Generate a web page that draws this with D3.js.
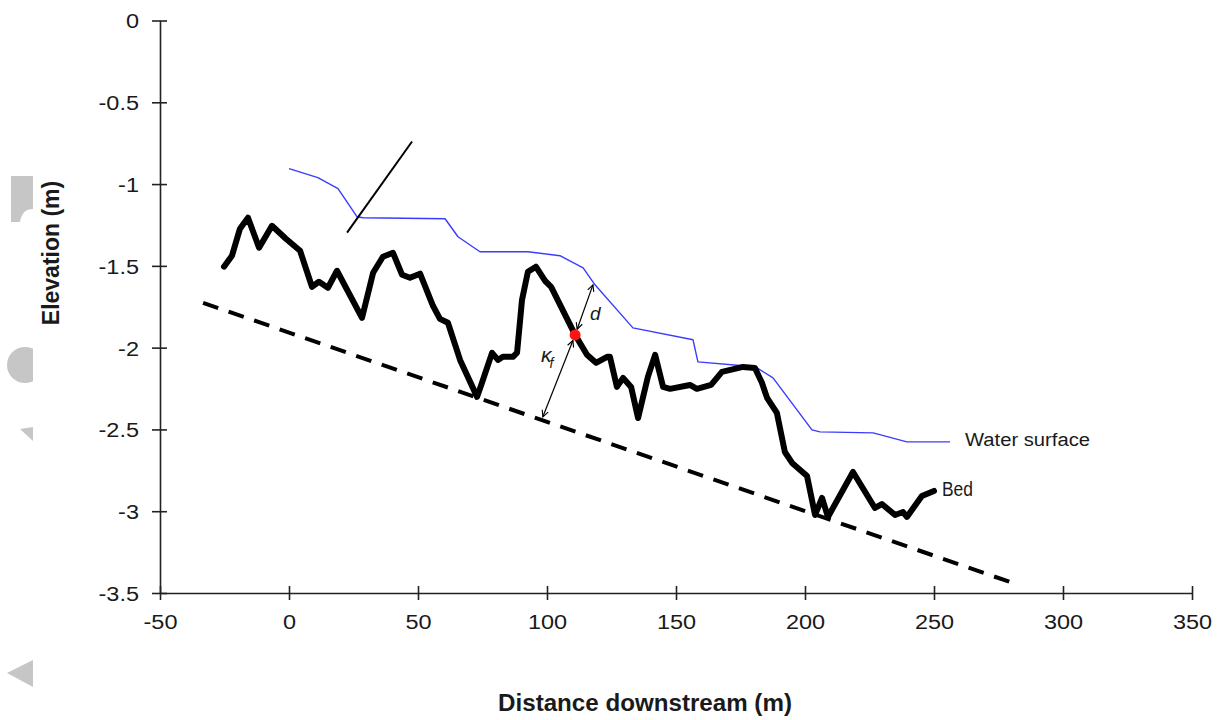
<!DOCTYPE html>
<html>
<head>
<meta charset="utf-8">
<script src="https://cdn.jsdelivr.net/npm/d3@7"></script>
<style>
  html, body { margin: 0; padding: 0; background: #fff; }
  svg { display: block; }
  text { font-family: "Liberation Sans", Arial, sans-serif; fill: #1a1a1a; }
</style>
</head>
<body>
<svg id="chart" width="1228" height="720"></svg>
<script>
// Longitudinal profile: bed, water surface and datum line
const xTicks = [-50, 0, 50, 100, 150, 200, 250, 300, 350];
const yTicks = [0, -0.5, -1, -1.5, -2, -2.5, -3, -3.5];

const bedDistance = [-25.2, -22.1, -19.0, -15.9, -11.6, -6.6, -1.2, 4.3, 8.9, 11.6, 15.1, 18.6,
  28.3, 32.6, 36.4, 40.3, 43.8, 46.9, 50.8, 55.8, 58.5, 61.6, 66.3, 72.9, 74.8, 78.7, 81.0,
  82.9, 86.8, 88.4, 90.3, 92.6, 95.7, 99.2, 101.6, 110.9, 115.5, 119.0, 123.3, 124.4, 127.1,
  129.5, 132.6, 135.3, 139.1, 141.9, 145.0, 147.7, 155.4, 158.1, 163.6, 167.8, 176.0, 180.6,
  183.3, 185.3, 189.1, 192.2, 195.0, 200.8, 203.9, 206.6, 208.9, 218.6, 227.1, 229.8, 234.9,
  238.0, 239.5, 245.3, 250.0];
const bedElevation = [-1.505, -1.438, -1.273, -1.206, -1.389, -1.255, -1.334, -1.408, -1.628,
  -1.597, -1.634, -1.530, -1.818, -1.542, -1.444, -1.420, -1.554, -1.573, -1.548, -1.744,
  -1.824, -1.848, -2.075, -2.301, -2.215, -2.032, -2.075, -2.056, -2.056, -2.030, -1.710,
  -1.536, -1.505, -1.591, -1.628, -1.922, -2.044, -2.093, -2.056, -2.056, -2.240, -2.185,
  -2.240, -2.430, -2.179, -2.044, -2.240, -2.252, -2.228, -2.252, -2.228, -2.148, -2.118,
  -2.124, -2.215, -2.307, -2.399, -2.638, -2.705, -2.785, -3.023, -2.919, -3.035, -2.760,
  -2.980, -2.956, -3.023, -3.005, -3.035, -2.907, -2.876];

const waterDistance = [0, 11.2, 19.0, 26.4, 28.7, 60.5, 65.5, 74.0, 92.6, 105.0, 114.0, 118.6,
  133.3, 156.6, 158.5, 176.0, 181.4, 187.6, 202.7, 205.8, 226.4, 239.5, 256.2];
const waterElevation = [-0.906, -0.961, -1.028, -1.200, -1.206, -1.212, -1.322, -1.414, -1.414,
  -1.438, -1.512, -1.616, -1.879, -1.952, -2.087, -2.111, -2.124, -2.185, -2.503, -2.515,
  -2.521, -2.576, -2.576];

// dashed reference (datum) line
const datumDistance = [-33.3, 279.5];
const datumElevation = [-1.726, -3.433];

// thin slanted marker line near the upstream end
const slantDistance = [22.5, 47.7];
const slantElevation = [-1.297, -0.740];

// measurement point on the bed and its perpendicular arrows
const pointDistance = 110.9, pointElevation = -1.922;
const dTopDistance = 117.8, dTopElevation = -1.616;
const kfBottomDistance = 98.4, kfBottomElevation = -2.423;

const svg = d3.select("#chart");

const x = d3.scaleLinear().domain([-50, 350]).range([160, 1192]);
const y = d3.scaleLinear().domain([-3.5, 0]).range([593, 20.5]);

// light grey shapes along the left edge
const grey = "#c6c6c6";
svg.append("path").attr("d", "M11,176 H33 V209 Q22,209 20,222 H11 Z").attr("fill", grey);
svg.append("clipPath").attr("id", "leftclip")
  .append("rect").attr("x", 0).attr("y", 0).attr("width", 33).attr("height", 720);
svg.append("circle").attr("cx", 25).attr("cy", 365).attr("r", 18)
  .attr("fill", grey).attr("clip-path", "url(#leftclip)");
svg.append("path").attr("d", "M20,429 L33,427 L33,441 Z").attr("fill", grey);
svg.append("path").attr("d", "M7,673 L33,660 L33,687 Z").attr("fill", grey);

// axes with ticks crossing the axis line; labels use a plain hyphen for negatives
const tickFont = 21, stretch = 1.12;
const plain = d => String(d);

const xAxis = svg.append("g").attr("transform", `translate(0,${y(-3.5)})`)
  .call(d3.axisBottom(x).tickValues(xTicks).tickFormat(plain).tickSizeOuter(0));
const yAxis = svg.append("g").attr("transform", `translate(${x(-50)},0)`)
  .call(d3.axisLeft(y).tickValues(yTicks).tickFormat(plain).tickSizeOuter(0));

[xAxis, yAxis].forEach(g => {
  g.select(".domain").attr("stroke", "#222").attr("stroke-width", 1.6);
  g.selectAll(".tick line").attr("stroke", "#222").attr("stroke-width", 1.6);
  g.selectAll(".tick text").attr("font-family", "Liberation Sans, Arial, sans-serif")
    .attr("font-size", tickFont).attr("fill", "#1a1a1a");
});
xAxis.selectAll(".tick line").attr("y1", -7).attr("y2", 7);
xAxis.selectAll(".tick text").attr("y", 36).attr("dy", null)
  .attr("transform", `scale(${stretch},1)`);
yAxis.selectAll(".tick line").attr("x1", -8).attr("x2", 7);
yAxis.selectAll(".tick text").attr("x", -21 / stretch).attr("dy", "0.35em")
  .attr("transform", `scale(${stretch},1)`);

// axis titles
svg.append("text")
  .attr("transform", `translate(645,711) scale(1.05,1)`)
  .attr("text-anchor", "middle").attr("font-weight", "bold").attr("font-size", 23)
  .text("Distance downstream (m)");
svg.append("text")
  .attr("transform", `translate(59,253) rotate(-90)`)
  .attr("text-anchor", "middle").attr("font-weight", "bold").attr("font-size", 23)
  .text("Elevation (m)");

const line = d3.line().x(d => x(d[0])).y(d => y(d[1]));

// datum line
svg.append("path")
  .datum(d3.zip(datumDistance, datumElevation))
  .attr("d", line).attr("fill", "none").attr("stroke", "#000")
  .attr("stroke-width", 4).attr("stroke-dasharray", "16,11");

// water surface
svg.append("path")
  .datum(d3.zip(waterDistance, waterElevation))
  .attr("d", line).attr("fill", "none").attr("stroke", "#3b3bff")
  .attr("stroke-width", 1.4).attr("stroke-linejoin", "round");

// slanted marker line
svg.append("path")
  .datum(d3.zip(slantDistance, slantElevation))
  .attr("d", line).attr("fill", "none").attr("stroke", "#000").attr("stroke-width", 2);

// bed profile
svg.append("path")
  .datum(d3.zip(bedDistance, bedElevation))
  .attr("d", line).attr("fill", "none").attr("stroke", "#000")
  .attr("stroke-width", 6).attr("stroke-linejoin", "round").attr("stroke-linecap", "round");

// arrow markers
const defs = svg.append("defs");
defs.append("marker").attr("id", "arrow").attr("viewBox", "0 0 10 10")
  .attr("refX", 9).attr("refY", 5).attr("markerWidth", 8).attr("markerHeight", 8)
  .attr("markerUnits", "userSpaceOnUse").attr("orient", "auto-start-reverse")
  .append("path").attr("d", "M1,1 L9,5 L1,9").attr("fill", "none")
  .attr("stroke", "#000").attr("stroke-width", 1.4);

// double-headed arrows leave a small gap around the point so it stays round
const px = x(pointDistance), py = y(pointElevation);
const gap = 6;
function arrowFrom(tx, ty) {
  const dx = tx - px, dy = ty - py, len = Math.hypot(dx, dy);
  svg.append("line")
    .attr("x1", px + dx / len * gap).attr("y1", py + dy / len * gap)
    .attr("x2", tx).attr("y2", ty)
    .attr("stroke", "#000").attr("stroke-width", 1.2)
    .attr("marker-start", "url(#arrow)").attr("marker-end", "url(#arrow)");
}
arrowFrom(x(dTopDistance), y(dTopElevation));
arrowFrom(x(kfBottomDistance), y(kfBottomElevation));

svg.append("circle").attr("cx", px).attr("cy", py).attr("r", 5.5).attr("fill", "#ff1414");

// arrow labels
svg.append("text").attr("x", 590).attr("y", 320)
  .attr("font-family", "Liberation Serif, serif").attr("font-style", "italic")
  .attr("font-size", 19).text("d");
const kf = svg.append("text").attr("x", 541).attr("y", 362)
  .attr("font-family", "Liberation Serif, serif").attr("font-style", "italic").attr("font-size", 21);
kf.append("tspan").text("κ");
kf.append("tspan").attr("dy", 6).attr("dx", -2).attr("font-size", 14).text("f");

// series labels
svg.append("text").attr("x", 965).attr("y", 446)
  .attr("font-family", "Noto Sans, Open Sans, sans-serif").attr("font-size", 18)
  .attr("textLength", 125).attr("lengthAdjust", "spacingAndGlyphs").text("Water surface");
svg.append("text").attr("x", 942).attr("y", 496)
  .attr("font-family", "Noto Sans, Open Sans, sans-serif").attr("font-size", 20)
  .attr("textLength", 31).attr("lengthAdjust", "spacingAndGlyphs").text("Bed");
</script>
</body>
</html>
